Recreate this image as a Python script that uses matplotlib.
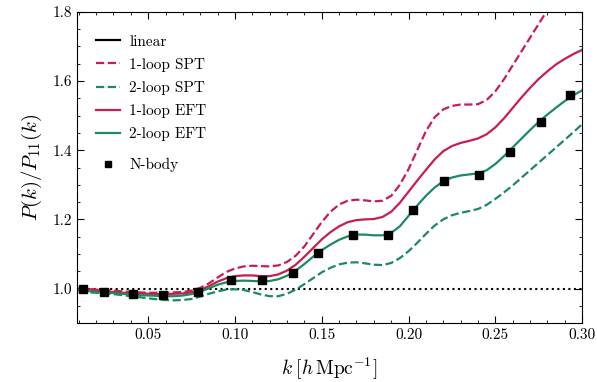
#!/usr/bin/env python3
"""Ratio of perturbation-theory power spectra to the linear one, vs N-body."""

import matplotlib
matplotlib.use("Agg")
import matplotlib.pyplot as plt
from matplotlib.lines import Line2D
from matplotlib.ticker import MultipleLocator

k = [0.010, 0.015, 0.020, 0.025, 0.030, 0.035, 0.040, 0.045, 0.050, 0.055,
     0.060, 0.065, 0.070, 0.075, 0.080, 0.085, 0.090, 0.095, 0.100, 0.105,
     0.110, 0.115, 0.120, 0.125, 0.130, 0.135, 0.140, 0.145, 0.150, 0.155,
     0.160, 0.165, 0.170, 0.175, 0.180, 0.185, 0.190, 0.195, 0.200, 0.205,
     0.210, 0.215, 0.220, 0.225, 0.230, 0.235, 0.240, 0.245, 0.250, 0.255,
     0.260, 0.265, 0.270, 0.275, 0.280, 0.285, 0.290, 0.295, 0.300]

spt_1loop = [1.000, 0.999, 0.997, 0.995, 0.994, 0.992, 0.990, 0.989, 0.988, 0.988,
             0.988, 0.989, 0.990, 0.994, 1.002, 1.015, 1.032, 1.048, 1.058, 1.064,
             1.066, 1.065, 1.064, 1.067, 1.077, 1.095, 1.122, 1.157, 1.192, 1.222,
             1.243, 1.254, 1.257, 1.255, 1.252, 1.254, 1.268, 1.300, 1.345, 1.400,
             1.455, 1.495, 1.518, 1.528, 1.532, 1.532, 1.533, 1.545, 1.570, 1.605,
             1.645, 1.685, 1.725, 1.765, 1.805, 1.845, 1.885, 1.925, 1.965]
spt_2loop = [0.990, 0.989, 0.988, 0.986, 0.984, 0.981, 0.978, 0.975, 0.972, 0.969,
             0.967, 0.966, 0.967, 0.970, 0.977, 0.985, 0.992, 0.997, 0.998, 0.996,
             0.990, 0.983, 0.978, 0.978, 0.985, 0.997, 1.013, 1.030, 1.047, 1.060,
             1.070, 1.075, 1.076, 1.073, 1.069, 1.068, 1.074, 1.088, 1.108, 1.132,
             1.158, 1.182, 1.200, 1.212, 1.219, 1.224, 1.230, 1.242, 1.259, 1.278,
             1.298, 1.320, 1.342, 1.364, 1.386, 1.408, 1.430, 1.452, 1.475]
eft_1loop = [1.000, 0.998, 0.995, 0.992, 0.990, 0.988, 0.987, 0.986, 0.985, 0.984,
             0.984, 0.985, 0.986, 0.989, 0.996, 1.007, 1.020, 1.030, 1.036, 1.038,
             1.038, 1.036, 1.036, 1.041, 1.052, 1.069, 1.092, 1.117, 1.142, 1.163,
             1.180, 1.192, 1.198, 1.200, 1.201, 1.207, 1.222, 1.248, 1.280, 1.312,
             1.343, 1.373, 1.397, 1.412, 1.421, 1.427, 1.434, 1.446, 1.466, 1.492,
             1.522, 1.552, 1.580, 1.606, 1.628, 1.648, 1.664, 1.678, 1.690]
eft_2loop = [0.995, 0.993, 0.990, 0.988, 0.987, 0.985, 0.983, 0.981, 0.980, 0.979,
             0.978, 0.978, 0.980, 0.984, 0.991, 1.001, 1.011, 1.018, 1.022, 1.023,
             1.022, 1.021, 1.022, 1.027, 1.037, 1.052, 1.071, 1.092, 1.111, 1.127,
             1.141, 1.151, 1.156, 1.156, 1.154, 1.154, 1.161, 1.180, 1.210, 1.240,
             1.268, 1.292, 1.310, 1.321, 1.327, 1.330, 1.333, 1.342, 1.360, 1.383,
             1.408, 1.433, 1.458, 1.482, 1.503, 1.523, 1.542, 1.559, 1.573]

# N-body measurements
k_nbody = [0.0126, 0.0247, 0.0414, 0.0586, 0.0788, 0.0978, 0.1157, 0.1335, 0.148,
           0.168, 0.188, 0.2027, 0.2205, 0.2407, 0.2585, 0.2764, 0.2931]
r_nbody = [1.000, 0.990, 0.985, 0.980, 0.990, 1.025, 1.025, 1.045, 1.104,
           1.156, 1.155, 1.228, 1.312, 1.329, 1.396, 1.482, 1.560]

RED = "#c81e4e"
GREEN = "#1b8b5e"

plt.rcParams.update({
    "font.family": "serif",
    "font.serif": ["cmr10", "DejaVu Serif"],
    "mathtext.fontset": "cm",
    "axes.unicode_minus": False,
    "axes.formatter.use_mathtext": True,
})

fig = plt.figure(figsize=(5.97, 3.82), dpi=100)
ax = fig.add_axes([0.129, 0.154, 0.846, 0.815])

ax.axhline(1.0, color="black", linestyle=":", linewidth=1.5)
ax.plot(k, spt_1loop, color=RED, linestyle="--", linewidth=1.6)
ax.plot(k, spt_2loop, color=GREEN, linestyle="--", linewidth=1.6)
ax.plot(k, eft_1loop, color=RED, linewidth=1.6)
ax.plot(k, eft_2loop, color=GREEN, linewidth=1.6)
ax.plot(k_nbody, r_nbody, linestyle="none", marker="s", markersize=6,
        color="black", zorder=5)

ax.set_xlim(0.009, 0.30)
ax.set_ylim(0.90, 1.80)
ax.xaxis.set_major_locator(MultipleLocator(0.05))
ax.xaxis.set_minor_locator(MultipleLocator(0.01))
ax.yaxis.set_major_locator(MultipleLocator(0.2))
ax.yaxis.set_minor_locator(MultipleLocator(0.05))
ax.xaxis.set_major_formatter(plt.FormatStrFormatter("%.2f"))
ax.yaxis.set_major_formatter(plt.FormatStrFormatter("%.1f"))
ax.tick_params(which="both", direction="in", top=True, right=True, labelsize=11)
ax.tick_params(which="major", length=5)
ax.tick_params(which="minor", length=2.5)

ax.set_xlabel(r"$k\;[h\,\mathrm{Mpc}^{-1}]$", fontsize=14, labelpad=10)
ax.set_ylabel(r"$P(k)/P_{11}(k)$", fontsize=15, labelpad=6)

# Lines legend, then the N-body entry a little further down (as in the paper)
line_handles = [
    Line2D([], [], color="black", linewidth=1.6),
    Line2D([], [], color=RED, linestyle="--", linewidth=1.6),
    Line2D([], [], color=GREEN, linestyle="--", linewidth=1.6),
    Line2D([], [], color=RED, linewidth=1.6),
    Line2D([], [], color=GREEN, linewidth=1.6),
]
line_labels = ["linear", "1-loop SPT", "2-loop SPT", "1-loop EFT", "2-loop EFT"]
leg = ax.legend(line_handles, line_labels, loc="upper left", frameon=False,
                fontsize=11, handlelength=1.6, handletextpad=0.6,
                labelspacing=0.6, bbox_to_anchor=(0.01, 0.97))
ax.add_artist(leg)

nb_handle = Line2D([], [], color="black", linestyle="none", marker="s", markersize=5)
ax.legend([nb_handle], ["N-body"], loc="upper left", frameon=False,
          fontsize=11, handlelength=1.6, handletextpad=0.6,
          bbox_to_anchor=(0.01, 0.575))

fig.savefig("out.png", dpi=100)
